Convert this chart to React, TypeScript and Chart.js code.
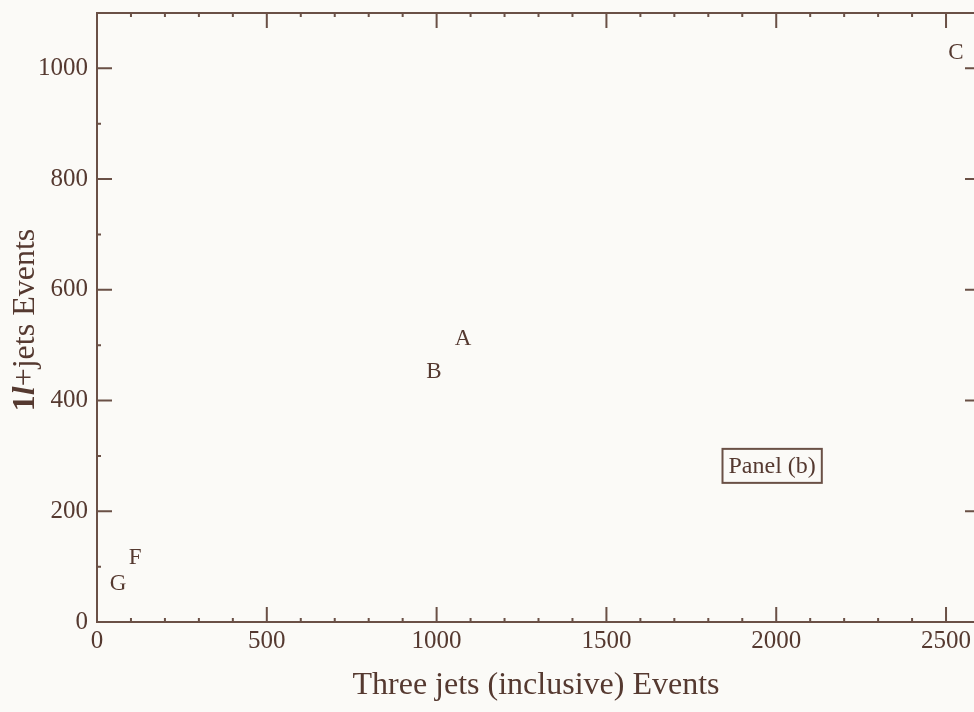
import React, { useEffect, useRef } from 'react';
import { Chart, registerables } from 'chart.js';

Chart.register(...registerables);

// ---- data ----
const POINT_LABELS = ['A', 'B', 'C', 'F', 'G'];
const THREE_JET_EVENTS = [1078, 992, 2529, 112, 62];
const ONE_LEPTON_EVENTS = [513, 453, 1030, 117, 70];

const X_TICKS = [0, 500, 1000, 1500, 2000, 2500];
const Y_TICKS = [0, 200, 400, 600, 800, 1000];
const X_MINOR_TICKS = [100, 200, 300, 400, 600, 700, 800, 900, 1100, 1200, 1300, 1400, 1600, 1700, 1800, 1900, 2100, 2200, 2300, 2400];
const Y_MINOR_TICKS = [100, 300, 500, 700, 900];

const X_TITLE = 'Three jets (inclusive) Events';
const Y_TITLE_PARTS = ['1', 'l', '+jets Events'];
const PANEL_TEXT = 'Panel (b)';
const PANEL_AT = { x: 1988, y: 282 };

// ---- style ----
const FONT = "'Liberation Serif', 'Times New Roman', serif";
const TEXT = '#553930';
const LINE = '#6a5046';
const BG = '#fbfaf7';

const paperPlugin = {
  id: 'paper',
  beforeDraw(chart: any) {
    const { ctx, width, height } = chart;
    ctx.save();
    ctx.fillStyle = BG;
    ctx.fillRect(0, 0, width, height);
    ctx.restore();
  },
};

const framePlugin = {
  id: 'frame',
  afterDraw(chart: any) {
    const { ctx, chartArea } = chart;
    const { left, right, top, bottom } = chartArea;
    const xs = chart.scales.x;
    const ys = chart.scales.y;
    ctx.save();
    ctx.strokeStyle = LINE;
    ctx.lineWidth = 2;
    ctx.strokeRect(left, top, right - left, bottom - top);
    const MAJ = 15;
    const MIN = 4;
    ctx.beginPath();
    const xt = (v: number, len: number) => {
      const p = xs.getPixelForValue(v);
      ctx.moveTo(p, bottom);
      ctx.lineTo(p, bottom - len);
      ctx.moveTo(p, top);
      ctx.lineTo(p, top + len);
    };
    const yt = (v: number, len: number) => {
      const p = ys.getPixelForValue(v);
      ctx.moveTo(left, p);
      ctx.lineTo(left + len, p);
      ctx.moveTo(right, p);
      ctx.lineTo(right - len, p);
    };
    X_TICKS.forEach((v) => xt(v, MAJ));
    X_MINOR_TICKS.forEach((v) => xt(v, MIN));
    Y_TICKS.forEach((v) => yt(v, MAJ));
    Y_MINOR_TICKS.forEach((v) => yt(v, MIN));
    ctx.stroke();

    // x title
    ctx.fillStyle = TEXT;
    ctx.font = `32px ${FONT}`;
    ctx.textAlign = 'center';
    ctx.textBaseline = 'alphabetic';
    ctx.fillText(X_TITLE, 536, 694);

    // y title with italic l
    const fonts = [`bold 32px ${FONT}`, `bold italic 32px ${FONT}`, `32px ${FONT}`];
    let total = 0;
    const widths = Y_TITLE_PARTS.map((t, i) => {
      ctx.font = fonts[i];
      const w = ctx.measureText(t).width;
      total += w;
      return w;
    });
    ctx.translate(34, 320);
    ctx.rotate(-Math.PI / 2);
    ctx.textAlign = 'left';
    let x = -total / 2;
    Y_TITLE_PARTS.forEach((t, i) => {
      ctx.font = fonts[i];
      ctx.fillText(t, x, 0);
      x += widths[i];
    });
    ctx.restore();
  },
};

const lettersPlugin = {
  id: 'letters',
  afterDatasetsDraw(chart: any) {
    const { ctx } = chart;
    const meta = chart.getDatasetMeta(0);
    ctx.save();
    ctx.fillStyle = TEXT;
    ctx.font = `23px ${FONT}`;
    ctx.textAlign = 'center';
    ctx.textBaseline = 'middle';
    meta.data.forEach((el: any, i: number) => {
      ctx.fillText(POINT_LABELS[i], el.x, el.y + 1);
    });

    // Panel (b) annotation
    const px = chart.scales.x.getPixelForValue(PANEL_AT.x);
    const py = chart.scales.y.getPixelForValue(PANEL_AT.y);
    ctx.font = `24px ${FONT}`;
    const w = ctx.measureText(PANEL_TEXT).width;
    const bw = w + 12;
    const bh = 34;
    ctx.strokeStyle = LINE;
    ctx.lineWidth = 2;
    ctx.strokeRect(px - bw / 2, py - bh / 2, bw, bh);
    ctx.fillText(PANEL_TEXT, px, py + 1);
    ctx.restore();
  },
};

export default function App() {
  const ref = useRef<HTMLCanvasElement>(null);
  useEffect(() => {
    if (!ref.current) return;
    const chart = new Chart(ref.current, {
      type: 'scatter',
      data: {
        datasets: [
          {
            data: THREE_JET_EVENTS.map((x, i) => ({ x, y: ONE_LEPTON_EVENTS[i] })),
            pointRadius: 0,
            showLine: false,
          },
        ],
      },
      options: {
        animation: false,
        responsive: false,
        devicePixelRatio: 1,
        layout: { padding: { top: 13, right: 20, left: 0, bottom: 0 } },
        plugins: { legend: { display: false }, tooltip: { enabled: false } },
        scales: {
          x: {
            type: 'linear',
            min: 0,
            max: 2600,
            grid: { display: false },
            border: { display: false },
            afterBuildTicks: (s: any) => {
              s.ticks = X_TICKS.map((v) => ({ value: v }));
            },
            afterFit: (s: any) => {
              s.height = 90;
              s.paddingLeft = 0;
              s.paddingRight = 0;
            },
            ticks: {
              color: TEXT,
              font: { family: FONT, size: 25 },
              padding: -4,
              maxRotation: 0,
              autoSkip: false,
              callback: (v: any) => String(v),
            },
          },
          y: {
            type: 'linear',
            min: 0,
            max: 1100,
            grid: { display: false },
            border: { display: false },
            afterBuildTicks: (s: any) => {
              s.ticks = Y_TICKS.map((v) => ({ value: v }));
            },
            afterFit: (s: any) => {
              s.width = 97;
              s.paddingTop = 0;
              s.paddingBottom = 0;
            },
            ticks: {
              color: TEXT,
              font: { family: FONT, size: 25 },
              padding: 1,
              autoSkip: false,
              callback: (v: any) => String(v),
            },
          },
        },
      },
      plugins: [paperPlugin, framePlugin, lettersPlugin],
    } as any);
    return () => chart.destroy();
  }, []);

  return (
    <div
      style={{
        position: 'fixed',
        left: 0,
        top: 0,
        width: 974,
        height: 712,
        overflow: 'hidden',
        background: BG,
      }}
    >
      <canvas ref={ref} width={1000} height={712} style={{ display: 'block', width: 1000, height: 712 }} />
    </div>
  );
}
